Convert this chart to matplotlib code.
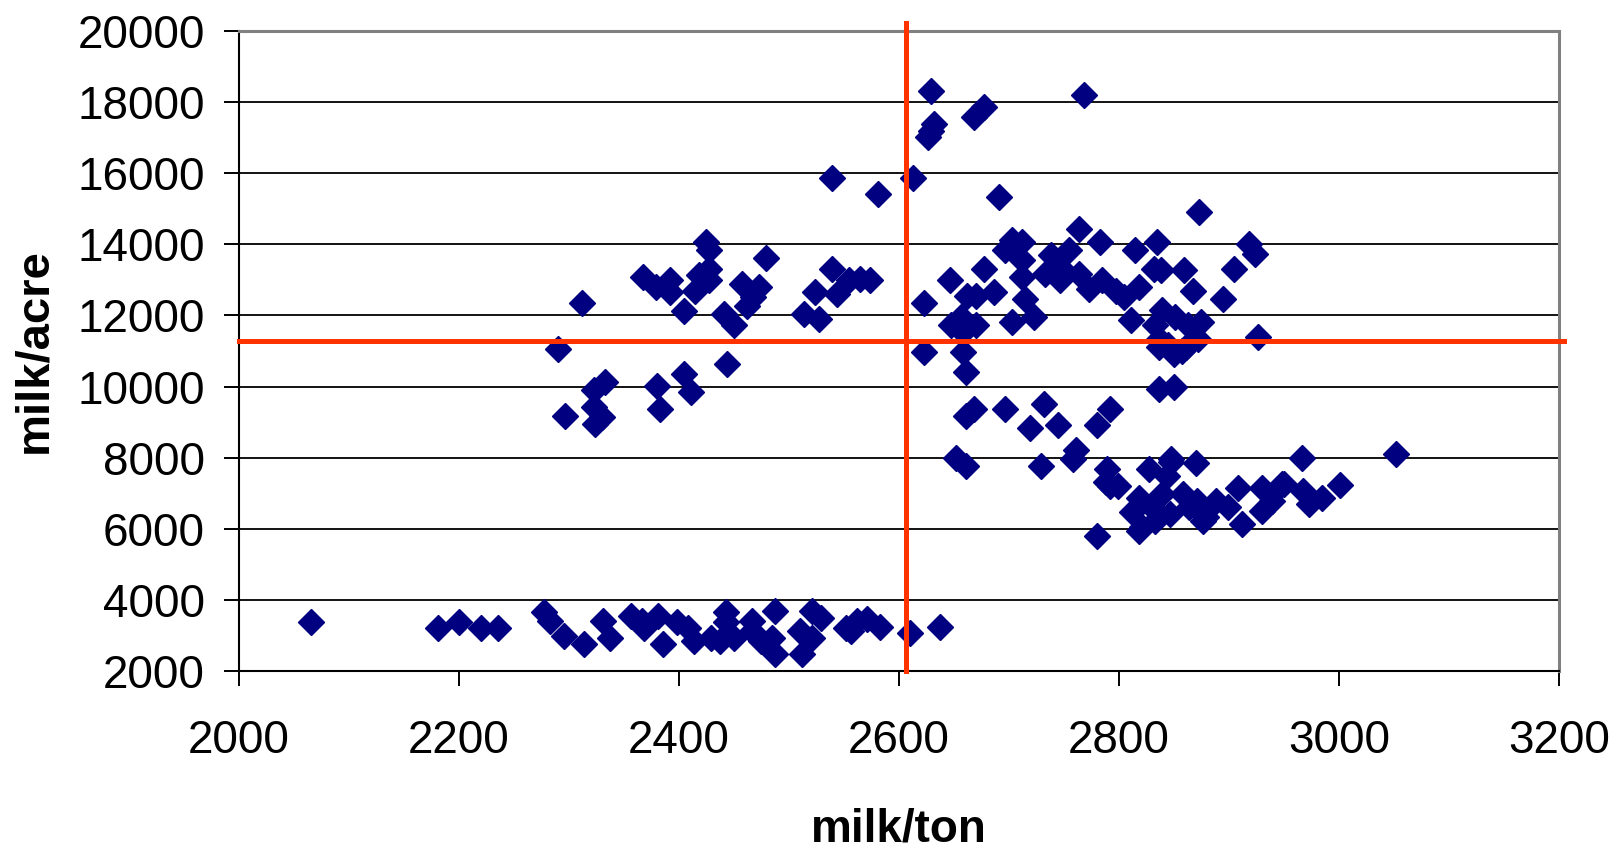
import matplotlib
matplotlib.use("Agg")
import matplotlib.pyplot as plt

# values
bottom_x = [2065, 2181, 2200, 2220, 2235, 2277, 2283, 2295, 2314, 2331, 2337, 2356, 2366, 2368,
            2381, 2385, 2398, 2408, 2414, 2429, 2443, 2443, 2437, 2450, 2466, 2466, 2475, 2487,
            2487, 2485, 2510, 2512, 2521, 2529, 2521, 2552, 2562, 2571, 2583, 2610, 2637, 2556]
bottom_y = [3380, 3200, 3380, 3200, 3200, 3650, 3410, 2990, 2750, 3410, 2940, 3550, 3410, 3200,
            3550, 2750, 3390, 3200, 2850, 2940, 3650, 3390, 2850, 2940, 3410, 3130, 2850, 3690,
            2470, 2940, 3130, 2470, 3690, 3500, 2940, 3200, 3410, 3460, 3240, 3080, 3240, 3130]

left_x = [2539, 2581, 2425, 2427, 2479, 2367, 2379, 2392, 2392, 2418, 2427, 2427, 2415, 2405,
          2457, 2473, 2467, 2462, 2441, 2450, 2312, 2290, 2539, 2524, 2514, 2527, 2544, 2555,
          2565, 2574, 2444, 2405, 2411, 2380, 2383, 2333, 2323, 2323, 2330, 2324, 2296]
left_y = [15860, 15420, 14060, 13830, 13630, 13090, 12800, 12990, 12660, 13130, 13320, 12990,
          12700, 12120, 12890, 12800, 12520, 12280, 12050, 11720, 12350, 11070, 13320, 12660,
          12030, 11910, 12610, 12990, 13030, 12990, 10640, 10360, 9840, 10030, 9370, 10120,
          9910, 9420, 9140, 8950, 9160]

upper_x = [2629, 2768, 2632, 2626, 2629, 2677, 2668, 2613, 2691, 2873, 2764, 2712, 2703, 2696,
           2783, 2835, 2815, 2918, 2924, 2905, 2895, 2646, 2677, 2686, 2662, 2670, 2623, 2647,
           2656, 2670, 2658, 2623, 2658, 2712, 2712, 2715, 2723, 2703, 2738, 2746, 2755, 2733,
           2746, 2764, 2773, 2785, 2797, 2805, 2818, 2832, 2838, 2859, 2867, 2811, 2926, 2833,
           2839, 2851, 2863, 2875, 2872, 2845, 2857, 2836]
upper_y = [18320, 18210, 17380, 17020, 17200, 17870, 17570, 15860, 15330, 14910, 14420, 14070,
           14110, 13830, 14070, 14070, 13830, 14020, 13740, 13310, 12460, 12990, 13320, 12660,
           12560, 12560, 12350, 11720, 11950, 11720, 11530, 10970, 10970, 13550, 13080, 12470,
           11950, 11810, 13690, 13360, 13830, 13170, 12990, 13170, 12750, 12990, 12700, 12520,
           12800, 13320, 13270, 13270, 12700, 11860, 11390, 11720, 12140, 11950, 11720, 11810,
           11340, 11180, 10990, 11340]

lower_x = [2661, 2836, 2850, 2836, 2850, 2861, 2668, 2661, 2696, 2732, 2719, 2745, 2792, 2780,
           2652, 2661, 2729, 2761, 2758, 2789, 2788, 2799, 2827, 2847, 2844, 2870, 2966, 3052,
           2812, 2818, 2821, 2830, 2833, 2839, 2846, 2858, 2864, 2871, 2879, 2888, 2899, 2908,
           2912, 2930, 2930, 2939, 2950, 2967, 2973, 2985, 3001, 2780, 2818, 2792, 2847, 2876,
           2948]
lower_y = [10420, 9940, 10000, 11110, 10920, 11110, 9370, 9180, 9370, 9510, 8830, 8930, 9370,
           8930, 7980, 7760, 7760, 8230, 7960, 7680, 7310, 7210, 7680, 7960, 7490, 7850, 7980,
           8110, 6460, 6880, 6040, 6600, 6230, 6980, 6410, 6980, 6600, 6790, 6320, 6790, 6600,
           7160, 6130, 7160, 6510, 6790, 7260, 7070, 6700, 6880, 7230, 5800, 5940, 7210, 7870,
           6230, 7260]

# red reference lines
x_ref = 2606
y_ref = 11290

milk_ton = bottom_x + left_x + upper_x + lower_x
milk_acre = bottom_y + left_y + upper_y + lower_y

plt.rcParams["font.family"] = ["Liberation Sans", "DejaVu Sans"]

fig = plt.figure(figsize=(16.15, 8.52), dpi=100)
ax = fig.add_axes([0.148, 0.2124, 0.8173, 0.7512])

ax.plot(milk_ton, milk_acre, linestyle="none", marker="D", ms=13,
        color="#000080", mec="#000080", mew=1, zorder=2)

ax.plot([x_ref, x_ref], [2000, 20230], color="#ff3300", lw=3.6, clip_on=False, zorder=4)
ax.plot([2000, 3205], [y_ref, y_ref], color="#ff3300", lw=3.6, clip_on=False, zorder=4)

ax.set_xlim(2000, 3200)
ax.set_ylim(2000, 20000)
ax.set_xticks(range(2000, 3201, 200))
ax.set_yticks(range(2000, 20001, 2000))

ax.set_axisbelow(True)
ax.yaxis.grid(True, color="black", lw=1.3)
ax.xaxis.grid(False)

for side in ["left", "bottom"]:
    ax.spines[side].set_color("black")
    ax.spines[side].set_linewidth(1.5)
for side in ["top", "right"]:
    ax.spines[side].set_color("#808080")
    ax.spines[side].set_linewidth(2.2)

ax.tick_params(axis="both", direction="out", length=10.6, width=1.4, labelsize=33, colors="black")
ax.tick_params(axis="x", pad=24)
ax.tick_params(axis="y", pad=14)

ax.set_xlabel("milk/ton", fontsize=33, fontweight="bold", va="center")
ax.set_ylabel("milk/acre", fontsize=34, fontweight="bold", va="center")
ax.xaxis.set_label_coords(0.5, -0.248)
ax.yaxis.set_label_coords(-0.155, 0.5)

fig.savefig("out.png", dpi=100)
